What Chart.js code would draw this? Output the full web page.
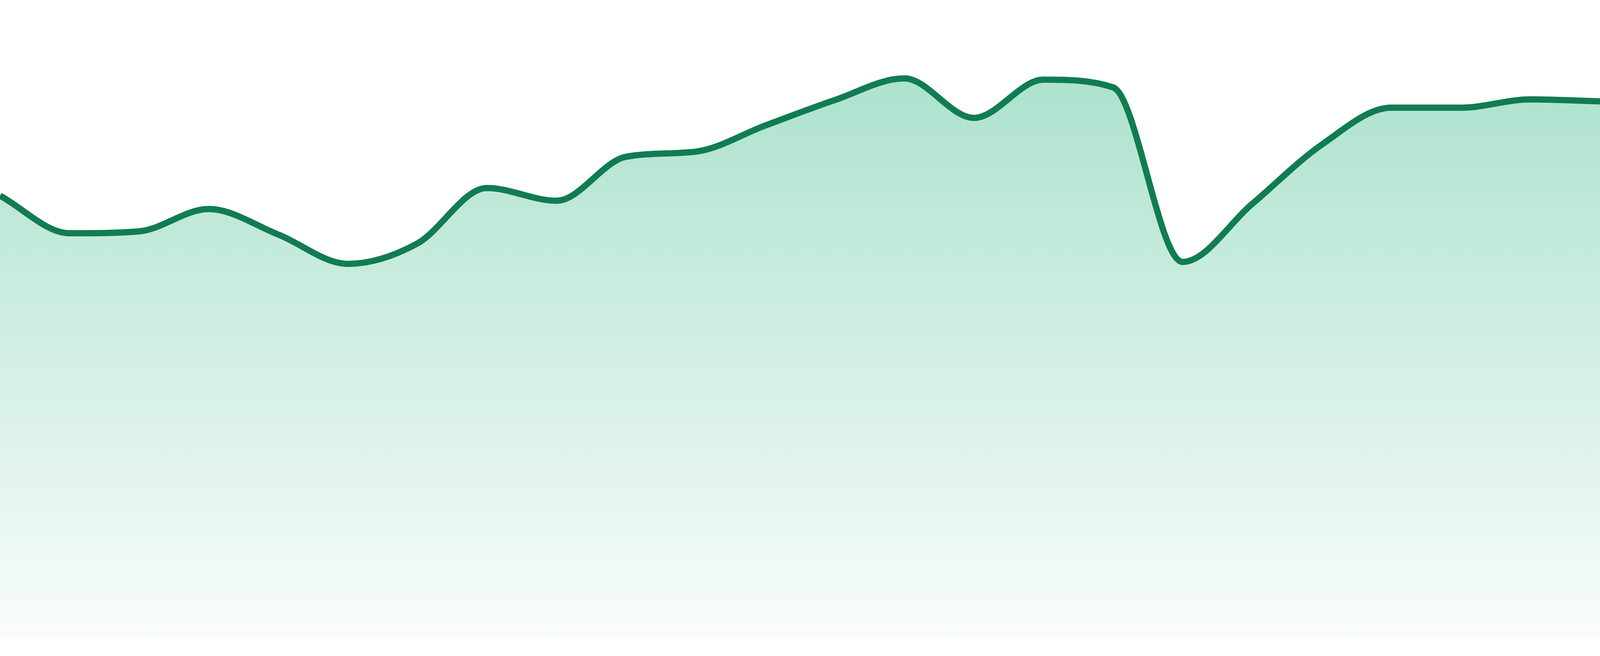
<!DOCTYPE html>
<html>
<head>
<meta charset="utf-8">
<script src="https://cdn.jsdelivr.net/npm/chart.js@4.4.1/dist/chart.umd.min.js"></script>
<style>
    html, body { margin: 0; padding: 0; background: #ffffff; overflow: hidden; }
    #wrap { width: 100vw; height: 100vh; position: relative; }
</style>
</head>
<body>
<div id="wrap"><canvas id="areaChart"></canvas></div>
<script>
// Kategorien (Stunden) und Werte der Linie
const hourLabels = ['00', '01', '02', '03', '04', '05', '06', '07', '08', '09', '10', '11',
                    '12', '13', '14', '15', '16', '17', '18', '19', '20', '21', '22', '23'];
const seriesValues = [69.3, 63.4, 63.7, 67.2, 63.2, 58.6, 61.8, 70.5, 68.5, 75.4, 76.2, 80.3,
                      84.3, 87.7, 81.5, 87.5, 86.3, 58.9, 68.0, 77.3, 83.1, 83.1, 84.4, 84.1];
const yMin = 0;
const yMax = 100;

/**
 * Baut den Farbverlauf für die Fläche unter der Linie
 */
function areaGradient(context) {
    const chart = context.chart;
    const area = chart.chartArea;
    if (!area) {
        return 'rgb(190, 232, 214)';
    }
    const gradient = chart.ctx.createLinearGradient(0, area.top, 0, area.bottom);
    gradient.addColorStop(0, 'rgb(162, 223, 199)');
    gradient.addColorStop(1, 'rgb(249, 252, 251)');
    return gradient;
}

const ctx = document.getElementById('areaChart').getContext('2d');

new Chart(ctx, {
    type: 'line',
    data: {
        labels: hourLabels,
        datasets: [{
            data: seriesValues,
            borderColor: '#117c52',
            borderWidth: 16,
            backgroundColor: areaGradient,
            fill: 'start',
            pointRadius: 0,
            cubicInterpolationMode: 'monotone'
        }]
    },
    options: {
        responsive: true,
        maintainAspectRatio: false,
        animation: false,
        layout: {
            padding: { left: 0, right: 0, top: 0, bottom: 48 }
        },
        plugins: {
            legend: { display: false },
            tooltip: { enabled: false }
        },
        scales: {
            x: { display: false, offset: false },
            y: { display: false, min: yMin, max: yMax }
        }
    }
});
</script>
</body>
</html>
